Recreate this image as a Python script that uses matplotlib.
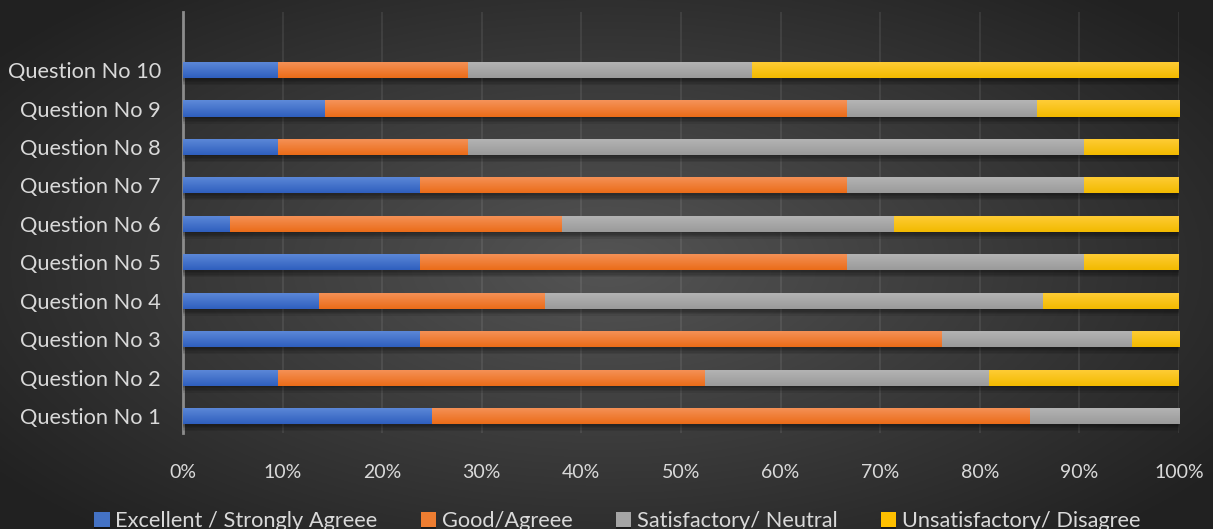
import numpy as np
import matplotlib.pyplot as plt
from matplotlib import patheffects
from matplotlib.colors import to_rgb
from matplotlib.ticker import PercentFormatter

plt.rcParams['font.family'] = ['Lato', 'DejaVu Sans']

questions = ["Question No 1", "Question No 2", "Question No 3", "Question No 4",
             "Question No 5", "Question No 6", "Question No 7", "Question No 8",
             "Question No 9", "Question No 10"]
categories = ["Excellent / Strongly Agreee", "Good/Agreee",
              "Satisfactory/ Neutral", "Unsatisfactory/ Disagree"]

# responses per question
excellent = [5, 2, 5, 3, 5, 1, 5, 2, 3, 2]
good = [12, 9, 11, 5, 9, 7, 9, 4, 11, 4]
neutral = [3, 6, 4, 11, 5, 7, 5, 13, 4, 6]
disagree = [0, 4, 1, 3, 2, 6, 2, 2, 3, 9]

colors = ["#4472C4", "#ED7D31", "#A5A5A5", "#FFC000"]
tops = ["#5E8AD9", "#F5935A", "#B5B5B5", "#FFCD38"]
bottoms = ["#2F5FBE", "#EB6C18", "#9A9A9A", "#F2BA00"]

counts = np.array([excellent, good, neutral, disagree], dtype=float)
pct = counts / counts.sum(axis=0) * 100

fig = plt.figure(figsize=(12.13, 5.29), dpi=100)

# dark radial background
bg = fig.add_axes([0, 0, 1, 1], zorder=-5)
yy, xx = np.mgrid[-1:1:300j, -1:1:600j]
r = np.sqrt((xx / 1.0) ** 2 + (yy / 1.1) ** 2)
shade = np.clip(0.33 - 0.16 * r, 0.13, 0.33)
bg.imshow(np.dstack([shade] * 3), extent=(0, 1, 0, 1), aspect='auto')
bg.axis("off")

ax = fig.add_axes([183 / 1213, 1 - 433 / 529, 996 / 1213, 421 / 529])
ax.set_facecolor("none")

# soft drop shadow under each bar
soft_shadow = [patheffects.SimplePatchShadow(offset=(0, -k), shadow_rgbFace="black", alpha=0.09)
               for k in range(1, 6)] + [patheffects.Normal()]

y = np.arange(len(questions))
h = 0.42
left = np.zeros(len(questions))
for i, cat in enumerate(categories):
    bars = ax.barh(y, pct[i], left=left, height=h, color=colors[i], label=cat,
                   zorder=3)
    grad = np.linspace(0, 1, 50)[:, None]
    c0, c1 = np.array(to_rgb(tops[i])), np.array(to_rgb(bottoms[i]))
    img = (c0 * (1 - grad[..., None]) + c1 * grad[..., None])
    for p in bars:
        p.set_path_effects(soft_shadow)
        if p.get_width() <= 0:
            continue
        x0, y0 = p.get_x(), p.get_y()
        im = ax.imshow(img, extent=(x0, x0 + p.get_width(), y0, y0 + p.get_height()),
                       aspect='auto', origin='upper', zorder=4, interpolation='bilinear')
        im.set_clip_path(p)
    left += pct[i]

ax.set_xlim(0, 100)
ax.set_ylim(-0.44, 10.51)
ax.set_xticks(np.arange(0, 101, 10))
ax.xaxis.set_major_formatter(PercentFormatter(decimals=0))
ax.set_yticks(y)
ax.set_yticklabels(questions)
ax.grid(axis='x', color="white", alpha=0.08, linewidth=1.5, zorder=0)
ax.set_axisbelow(True)
for s in ["top", "right", "bottom"]:
    ax.spines[s].set_visible(False)
ax.spines["left"].set_color("#8c8c8c")
ax.spines["left"].set_linewidth(2)
ax.tick_params(axis='both', length=0, colors="#d9d9d9")
ax.tick_params(axis='x', pad=22, labelsize=14)
ax.tick_params(axis='y', pad=16, labelsize=15.7)

leg = fig.legend(loc='center', bbox_to_anchor=(0.509, 1 - 521 / 529), ncol=4,
                 frameon=False, fontsize=15.7, handlelength=0.7, handleheight=0.7,
                 handletextpad=0.25, columnspacing=2.0)
for t in leg.get_texts():
    t.set_color("#d9d9d9")

fig.savefig("out.png", dpi=100)
